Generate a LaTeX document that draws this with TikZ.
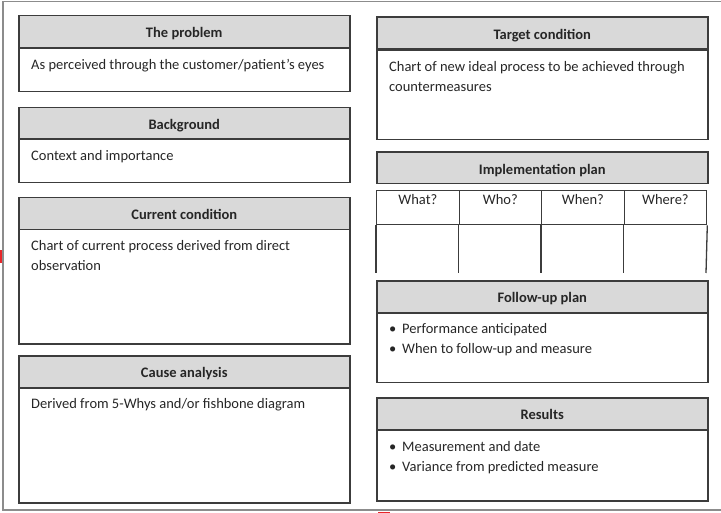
\documentclass[tikz,border=0pt]{standalone}
\usepackage{fontspec}
\setmainfont{Carlito}
\definecolor{boxline}{HTML}{3C3C3C}
\definecolor{hdrgray}{HTML}{D9D9D9}
\definecolor{txtc}{HTML}{262626}
\definecolor{framec}{HTML}{8C8C8C}
\definecolor{redmark}{HTML}{E8262A}
\tikzset{
  hdr/.style={draw=boxline, fill=hdrgray, line width=1.5bp, anchor=north west, inner sep=0pt,
    minimum height=32bp, text height=12.2bp, text depth=0pt, text=txtc,
    font=\fontsize{14.5bp}{20bp}\selectfont\bfseries},
  bodybox/.style={draw=boxline, line width=1.5bp, anchor=north west, inner sep=0pt},
  bodytxt/.style={anchor=north west, inner sep=0pt, align=left, text=txtc,
    font=\fontsize{14.5bp}{20bp}\selectfont},
  cell/.style={draw=boxline, line width=1.3bp, anchor=north west, inner sep=0pt,
    minimum width=82.5bp, minimum height=34bp, text height=9bp, text depth=15bp, text=txtc,
    font=\fontsize{14.5bp}{20bp}\selectfont},
  tabline/.style={draw=boxline, line width=1.3bp},
}
\newcommand{\atbox}[8]{%
  \node[hdr, minimum width=#4bp] (#1h) at (#2,#3) {#6};
  \node[bodybox, minimum width=#4bp, minimum height={(#5-#3-#7)*1bp}] (#1b) at (#2,#3+#7) {};
  \node[bodytxt] (#1t) at ([xshift=13bp,yshift=-7.5bp]#1b.north west) {#8};
}
\newcommand{\bul}{\makebox[13bp][l]{\textbullet}}
\begin{document}
\begin{tikzpicture}[x=1bp,y=-1bp]
\useasboundingbox (0,0) rectangle (721,513);
% outer frame
\draw[framec, line width=1.5bp] (722,1.5) -- (3,1.5) -- (3,510) -- (722,510);
\fill[redmark] (0,250) rectangle (2,263);
\fill[redmark] (378,511.5) rectangle (390,513);
% left column
\atbox{prob}{18}{15}{331}{91}{The problem}{32.5}{\strut As perceived through the customer/patient’s eyes}
\atbox{back}{18}{107}{331}{182}{Background}{31.5}{\strut Context and importance}
\atbox{curr}{18}{197}{331}{343}{Current condition}{32}{\strut Chart of current process derived from direct\\\strut observation}
\atbox{cause}{18}{355}{331}{502}{Cause analysis}{32}{\strut Derived from 5-Whys and/or fishbone diagram}
% right column
\atbox{targ}{376}{16.5}{331}{139}{Target condition}{33}{\strut Chart of new ideal process to be achieved through\\\strut countermeasures}
\node[hdr, minimum width=331bp, minimum height=31.5bp] (implh) at (376,151.5) {Implementation plan};
\node[cell] (c1) at (376,190) {What?};
\node[cell] (c2) at (458.5,190) {Who?};
\node[cell] (c3) at (541,190) {When?};
\node[cell] (c4) at (623.5,190) {Where?};
\coordinate (e1) at (376,273);
\coordinate (e2) at (458.5,273);
\coordinate (e3) at (541,273);
\coordinate (e4) at (623.5,273);
\coordinate (e5) at (706,273);
\draw[tabline] (c1.south west) -- (e1);
\draw[tabline] (c2.south west) -- (e2);
\draw[tabline] (c3.south west) -- (e3);
\draw[tabline] (c4.south west) -- (e4);
\draw[tabline] (c4.south east) -- (e5);
\atbox{foll}{376}{280}{331}{381.5}{Follow-up plan}{32}{\strut\bul Performance anticipated\\\strut\bul When to follow-up and measure}
\atbox{res}{376}{397}{331}{500}{Results}{32.5}{\strut\bul Measurement and date\\\strut\bul Variance from predicted measure}
\end{tikzpicture}
\end{document}
